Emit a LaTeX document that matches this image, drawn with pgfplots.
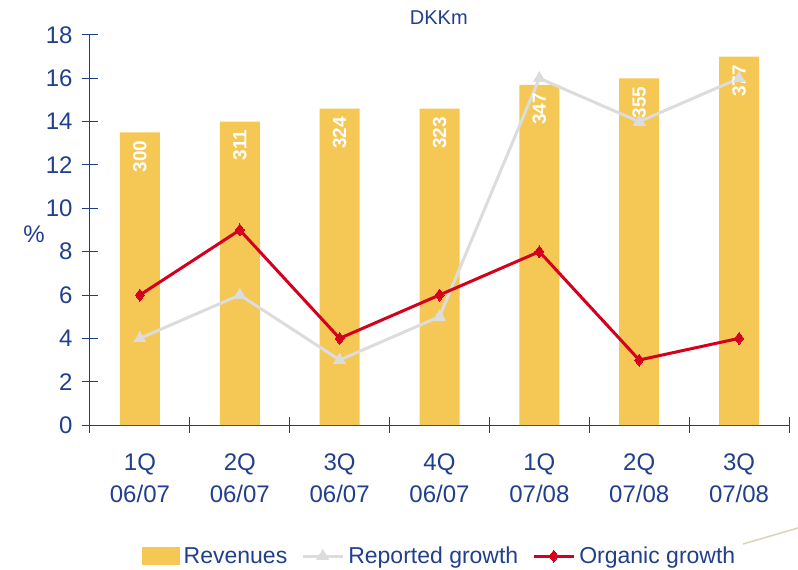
\documentclass[border=0pt]{standalone}
\usepackage{pgfplots}
\pgfplotsset{compat=1.18}
\usepackage{fontspec}
\setmainfont{Liberation Sans}
\definecolor{navy}{HTML}{1F3C88}
\definecolor{txt}{HTML}{203F8C}
\definecolor{baryel}{HTML}{F5C755}
\definecolor{repgray}{HTML}{DCDCDC}
\definecolor{orgred}{HTML}{D4001E}
\definecolor{deco}{HTML}{D9D3BC}
\pgfplotsset{
  linelegend/.style={legend image code/.code={\draw[mark repeat=2,mark phase=2,##1] plot coordinates {(0pt,0pt) (20pt,0pt) (40pt,0pt)};}},
  barlegend/.style={legend image code/.code={\fill[baryel] (0pt,-9pt) rectangle (38pt,9pt);}},
}
\begin{document}
\begin{tikzpicture}
\begin{axis}[
  name=main,
  scale only axis, width=699pt, height=390pt,
  xmin=-0.5, xmax=6.5, ymin=0, ymax=18,
  axis x line=bottom, axis y line=left,
  axis line style={navy, line width=1pt, -},
  ytick={0,2,...,18},
  xtick={-0.5,0.5,...,6.5},
  xticklabels={},
  extra x ticks={0,1,2,3,4,5,6},
  extra x tick labels={{1Q\\06/07},{2Q\\06/07},{3Q\\06/07},{4Q\\06/07},{1Q\\07/08},{2Q\\07/08},{3Q\\07/08}},
  extra x tick style={major tick length=0pt, xticklabel style={align=center, font=\fontsize{24}{32}\selectfont, text=txt, yshift=-25pt}},
  major tick length=16pt, tick align=center,
  tick style={navy, line width=1pt},
  yticklabel style={font=\fontsize{24}{28}\selectfont, text=txt, xshift=-6pt},
  /pgf/number format/assume math mode=true,
  ylabel={\%},
  ylabel style={rotate=-90, at={(axis description cs:-0.08,0.49)}, anchor=center, font=\fontsize{24}{28}\selectfont, text=txt},
  title={DKKm},
  title style={at={(axis description cs:0.499,1.0)}, anchor=south, yshift=1pt, font=\fontsize{20}{24}\selectfont, text=txt},
  legend style={at={(0.5,-0.336)}, anchor=center, draw=none, fill=none, legend columns=-1,
    font=\fontsize{23}{26}\selectfont, text=txt,
    /tikz/every even column/.append style={column sep=12pt},
    /tikz/every odd column/.append style={column sep=2pt}},
  legend cell align=left,
  clip=false,
]
\addplot[ybar, bar width=40pt, fill=baryel, draw=none,
  point meta=explicit symbolic,
  nodes near coords,
  nodes near coords style={rotate=90, anchor=east, text=white, font=\fontsize{19}{20}\selectfont\bfseries, inner sep=0pt, xshift=-8pt},
  barlegend]
  table[meta=label] {
x y label
0 13.5 300
1 14.0 311
2 14.6 324
3 14.6 323
4 15.7 347
5 16.0 355
6 17.0 377
};
\addlegendentry{Revenues}
\addplot[repgray, line width=3pt, mark=triangle*, mark size=7pt, mark options={fill=repgray, draw=repgray, line width=0pt}, linelegend]
  coordinates {(0,4) (1,6) (2,3) (3,5) (4,16) (5,14) (6,16)};
\addlegendentry{Reported growth}
\addplot[orgred, line width=3pt, mark=diamond*, mark size=6pt, mark options={fill=orgred, draw=orgred, line width=0pt}, linelegend]
  coordinates {(0,6) (1,9) (2,4) (3,6) (4,8) (5,3) (6,4)};
\addlegendentry{Organic growth}
\end{axis}
\pgfresetboundingbox
\path[use as bounding box] ([shift={(-90pt,-145pt)}]main.south west) rectangle ([shift={(708pt,425pt)}]main.south west);
\draw[deco, line width=1.5pt] ([shift={(653pt,-119pt)}]main.south west) -- ([shift={(708pt,-103pt)}]main.south west);
\end{tikzpicture}
\end{document}
